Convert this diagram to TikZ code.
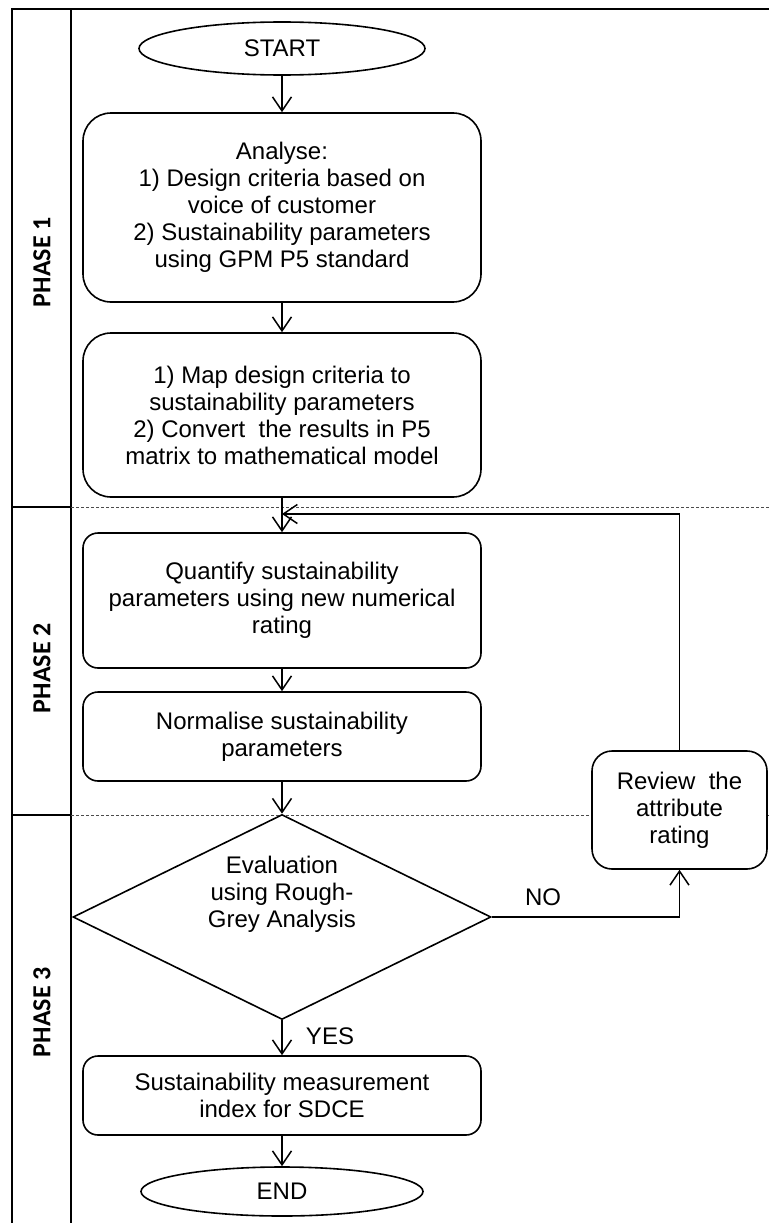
\documentclass[tikz,border=0pt]{standalone}
\usepackage{fontspec}
\setmainfont{Liberation Sans}
\newfontfamily\phasefont{Carlito}
\usetikzlibrary{shapes.geometric,arrows.meta}
\begin{document}
\begin{tikzpicture}[x=1pt,y=-1pt,
  txt/.style={font=\fontsize{24}{27}\selectfont, align=center},
  bigbox/.style={txt, draw, fill=white, line width=1.6pt, rounded corners=28pt, minimum width=398pt, inner sep=0pt},
  smallbox/.style={txt, draw, fill=white, line width=1.6pt, rounded corners=15pt, minimum width=398pt, inner sep=0pt},
  terminal/.style={txt, draw, fill=white, ellipse, line width=1.6pt, inner sep=0pt},
  flow/.style={line width=1.5pt, -{Straight Barb[length=14pt,width=19pt]}},
  phase/.style={rotate=90, font=\phasefont\bfseries\fontsize{26}{30}\selectfont},
  divider/.style={line width=1pt, dash pattern=on 3pt off 2pt, black!70},
  frame/.style={line width=2.5pt}
]
\useasboundingbox (0,0) rectangle (769,1223);
% lanes
\draw[frame] (12,1223) -- (12,9) -- (769,9);
\draw[line width=2pt] (71,9) -- (71,1223);
\draw[frame] (12,507) -- (71,507);
\draw[frame] (12,815) -- (71,815);
\draw[divider] (71,507) -- (769,507);
\draw[divider] (71,815) -- (769,815);
\node[phase] (p1) at (42,262) {PHASE 1};
\node[phase] (p2) at (42,668) {PHASE 2};
\node[phase] (p3) at (42,1012) {PHASE 3};
% nodes
\node[terminal, minimum width=286pt, minimum height=53pt] (start) at (282,48.5) {START};
\node[bigbox, minimum height=189pt] (b1) at (282,207.5) {Analyse:\\1) Design criteria based on\\voice of customer\\2) Sustainability parameters\\using GPM P5 standard};
\node[bigbox, minimum height=164pt] (b2) at (282,415) {1) Map design criteria to\\sustainability parameters\\2) Convert\ \ the results in P5\\matrix to mathematical model};
\node[smallbox, minimum height=135pt] (b3) at (282,600.5) {Quantify sustainability\\parameters using new numerical\\rating};
\node[smallbox, minimum height=89pt] (b4) at (282,736.5) {Normalise sustainability\\parameters};
\node[diamond, draw, fill=white, line width=1.6pt, minimum width=418pt, minimum height=205pt, inner sep=0pt] (dec) at (282,917) {};
\node[txt] (dectxt) at (282,894) {Evaluation\\using Rough-\\Grey Analysis};
\node[smallbox, rounded corners=20pt, minimum width=175pt, minimum height=118pt] (rev) at (679.5,810) {Review\ \ the\\attribute\\rating};
\node[smallbox, minimum height=79pt] (b5) at (282,1095.5) {Sustainability measurement\\index for SDCE};
\node[terminal, minimum width=282pt, minimum height=49pt] (end) at (282,1191.5) {END};
\coordinate (fbin) at (282,514);
% connectors
\draw[flow] (start) -- (b1);
\draw[flow] (b1) -- (b2);
\draw[flow] (b2) -- (b3);
\draw[flow] (b3) -- (b4);
\draw[flow] (b4) -- (dec.north);
\draw[flow] (dec.east) -| (rev.south);
\draw[flow] (rev.north) |- (fbin);
\draw[flow] (dec.south) -- (b5);
\draw[flow] (b5) -- (end);
\node[txt] (no) at (543,897) {NO};
\node[txt] (yes) at (330,1036) {YES};
\end{tikzpicture}
\end{document}
